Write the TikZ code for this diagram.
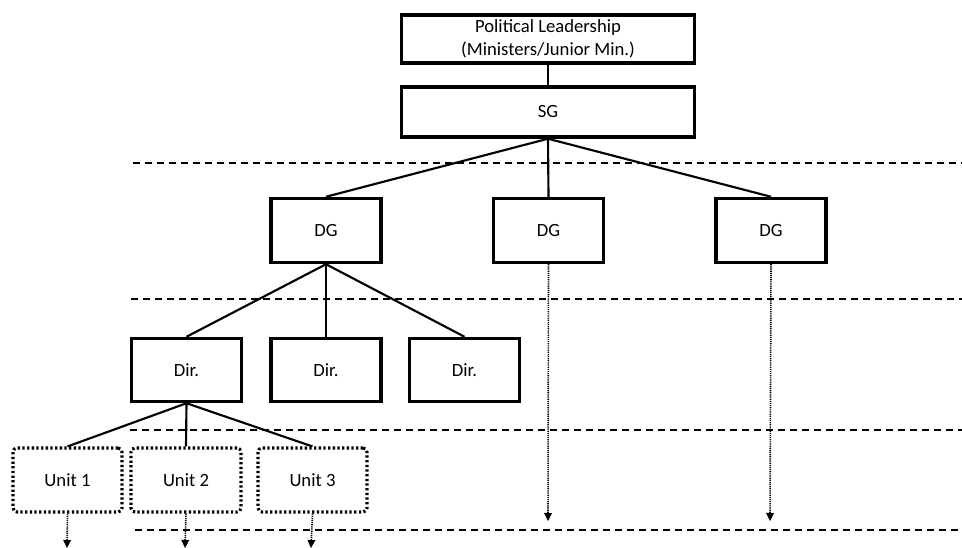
\documentclass[tikz,border=0pt]{standalone}
\usepackage{fontspec}
\setmainfont{Carlito}
\usetikzlibrary{arrows.meta}
\begin{document}
\begin{tikzpicture}[x=0.75pt,y=-0.75pt,
  box/.style={draw,line width=2.6pt,rectangle,inner sep=0pt,font=\fontsize{14}{17.5}\selectfont,align=center},
  unitbox/.style={draw,line width=2.3pt,rectangle,rounded corners=3pt,inner sep=0pt,dash pattern=on 1.7pt off 1.8pt,font=\fontsize{14}{17.5}\selectfont},
  link/.style={line width=1.6pt},
  sep/.style={line width=1.8pt,dash pattern=on 5.4pt off 3.6pt},
  down/.style={line width=1.2pt,dash pattern=on 0.9pt off 0.7pt,-{Triangle[length=6pt,width=6pt,line width=0pt]}}
]
\useasboundingbox (0,0) rectangle (962,548);
% boxes
\node[box,minimum width=293*0.75pt,minimum height=48*0.75pt] (pl) at (548,39) {Political Leadership\\(Ministers/Junior Min.)};
\node[box,minimum width=293*0.75pt,minimum height=50*0.75pt] (sg) at (548,112) {SG};
\node[box,minimum width=110*0.75pt,minimum height=64*0.75pt] (dg1) at (326,230.5) {DG};
\node[box,minimum width=110*0.75pt,minimum height=64*0.75pt] (dg2) at (548.5,230.5) {DG};
\node[box,minimum width=110*0.75pt,minimum height=64*0.75pt] (dg3) at (771,230.5) {DG};
\node[box,minimum width=110*0.75pt,minimum height=63*0.75pt] (d1) at (186.5,370) {Dir.};
\node[box,minimum width=110*0.75pt,minimum height=63*0.75pt] (d2) at (326,370) {Dir.};
\node[box,minimum width=110*0.75pt,minimum height=63*0.75pt] (d3) at (464.5,370) {Dir.};
\node[unitbox,minimum width=109*0.75pt,minimum height=64*0.75pt] (u1) at (67.5,480) {Unit 1};
\node[unitbox,minimum width=110*0.75pt,minimum height=64*0.75pt] (u2) at (186,480) {Unit 2};
\node[unitbox,minimum width=109*0.75pt,minimum height=64*0.75pt] (u3) at (312.5,480) {Unit 3};
% free ends
\coordinate (e1) at (67,548);
\coordinate (e2) at (185,548);
\coordinate (e3) at (311,548);
\coordinate (e4) at (548,521);
\coordinate (e5) at (770,521);
% separators
\coordinate (s1a) at (133,163); \coordinate (s1b) at (962,163);
\coordinate (s2a) at (131,299); \coordinate (s2b) at (962,299);
\coordinate (s3a) at (130,430); \coordinate (s3b) at (962,430);
\coordinate (s4a) at (135,530); \coordinate (s4b) at (962,530);
\draw[sep] (s1a) -- (s1b);
\draw[sep] (s2a) -- (s2b);
\draw[sep] (s3a) -- (s3b);
\draw[sep] (s4a) -- (s4b);
% links
\draw[link] (pl.south) -- (sg.north);
\draw[link] (sg.south) -- (dg1.north);
\draw[link] (sg.south) -- (dg2.north);
\draw[link] (sg.south) -- (dg3.north);
\draw[link] (dg1.south) -- (d1.north);
\draw[link] (dg1.south) -- (d2.north);
\draw[link] (dg1.south) -- (d3.north);
\draw[link] (d1.south) -- (u1.north);
\draw[link] (d1.south) -- (u2.north);
\draw[link] (d1.south) -- (u3.north);
% dotted arrows
\draw[down] (dg2.south) -- (e4);
\draw[down] (dg3.south) -- (e5);
\draw[down] (u1.south) -- (e1);
\draw[down] (u2.south) -- (e2);
\draw[down] (u3.south) -- (e3);
\end{tikzpicture}
\end{document}
